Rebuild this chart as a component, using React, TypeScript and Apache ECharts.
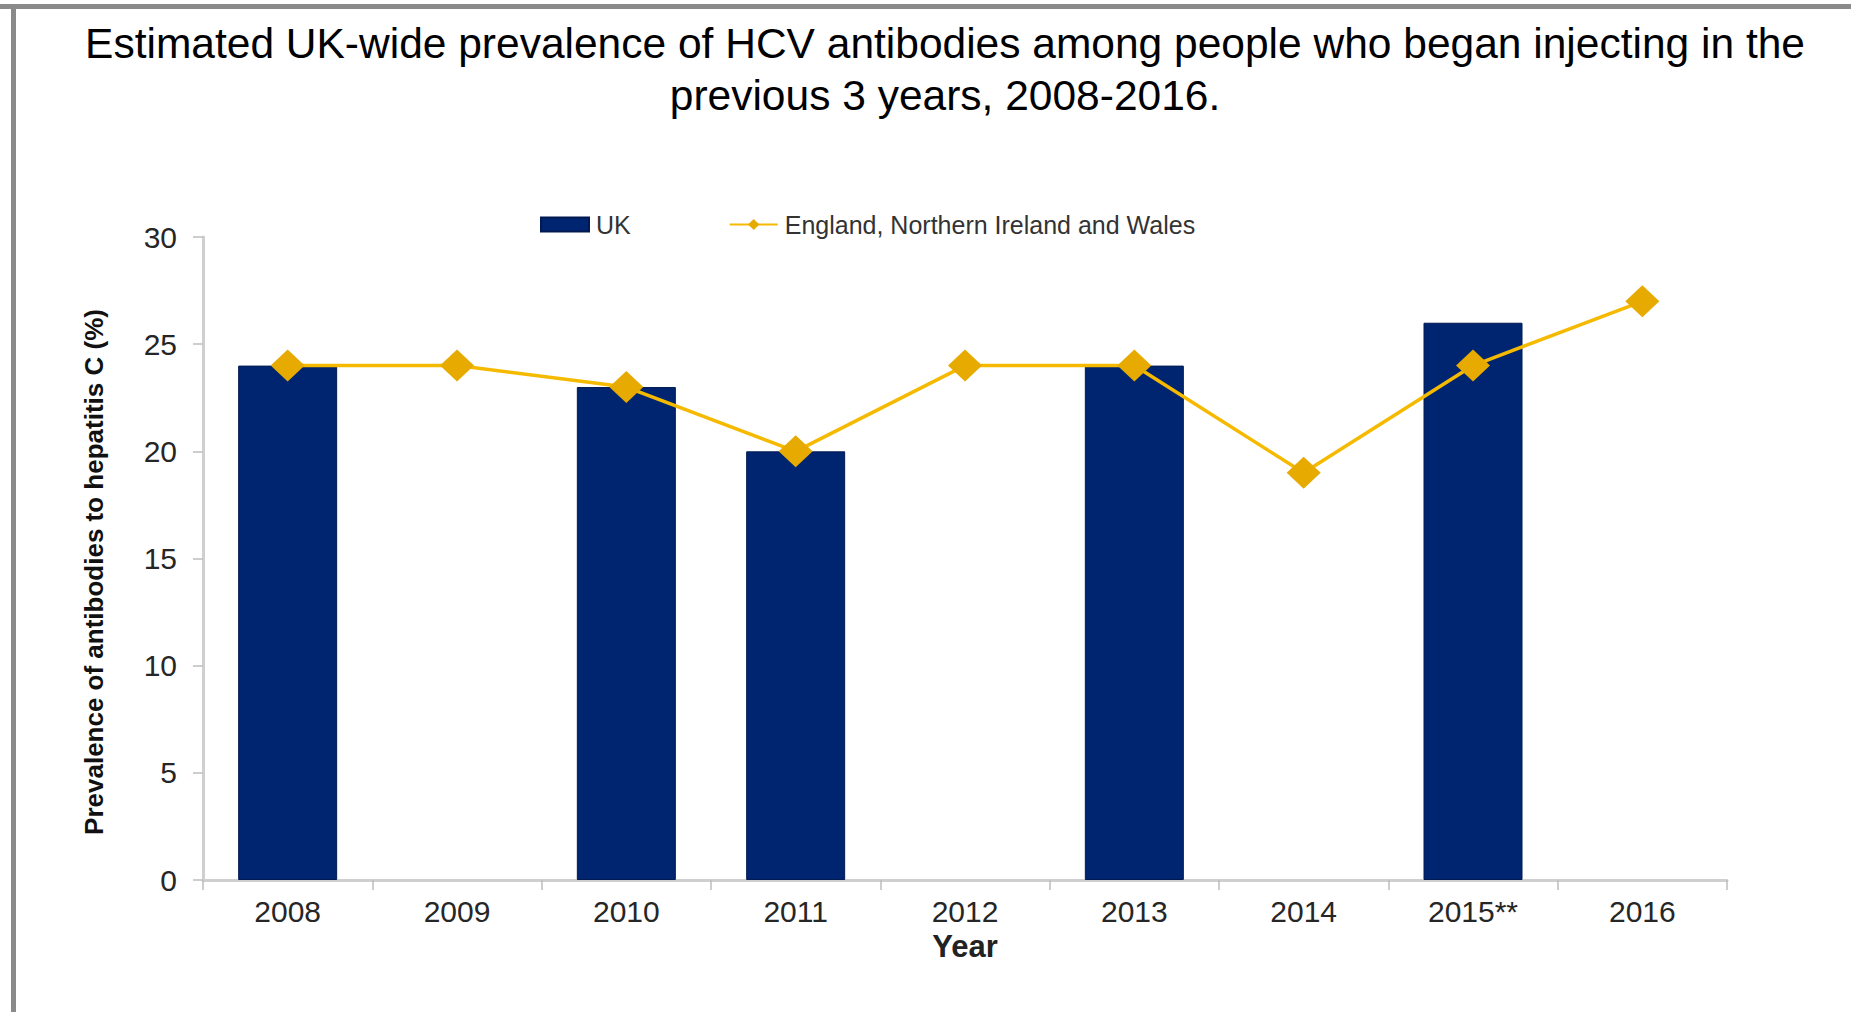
import React, { useEffect, useRef } from "react";
import * as echarts from "echarts";

const years = ["2008", "2009", "2010", "2011", "2012", "2013", "2014", "2015**", "2016"];
const ukValues: (number | null)[] = [24, null, 23, 20, null, 24, null, 26, null];
const eniwValues: number[] = [24, 24, 23, 20, 24, 24, 19, 24, 27];
const yTicks = { min: 0, max: 30, interval: 5 };

const titleLines = [
  "Estimated UK-wide prevalence of HCV antibodies among people who began injecting in the",
  "previous 3 years, 2008-2016.",
];
const yAxisTitle = "Prevalence of antibodies to hepatitis C (%)";
const xAxisTitle = "Year";

export default function App() {
  const ref = useRef<HTMLDivElement>(null);
  useEffect(() => {
    if (!ref.current) return;
    const chart = echarts.init(ref.current, null, { renderer: "svg" });
    const font = "'Liberation Sans', Arial, sans-serif";
    chart.setOption({
      animation: false,
      backgroundColor: "#ffffff",
      textStyle: { fontFamily: font },
      graphic: [
        {
          type: "rect",
          shape: { x: 0, y: 4, width: 1851, height: 5 },
          style: { fill: "#8a8a8a" },
        },
        {
          type: "rect",
          shape: { x: 11, y: 4, width: 5, height: 1008 },
          style: { fill: "#8a8a8a" },
        },
        {
          type: "text",
          x: 945,
          y: 43,
          style: {
            text: titleLines[0],
            font: `42.5px ${font}`,
            fill: "#000",
            textAlign: "center",
            textVerticalAlign: "middle",
          },
        },
        {
          type: "text",
          x: 945,
          y: 95,
          style: {
            text: titleLines[1],
            font: `42.5px ${font}`,
            fill: "#000",
            textAlign: "center",
            textVerticalAlign: "middle",
          },
        },
        {
          type: "text",
          x: 94,
          y: 572,
          rotation: Math.PI / 2,
          style: {
            text: yAxisTitle,
            font: `bold 26px ${font}`,
            fill: "#111",
            textAlign: "center",
            textVerticalAlign: "middle",
          },
        },
      ],
      legend: {
        left: 535,
        top: 207,
        itemGap: 98,
        itemWidth: 48,
        itemHeight: 14,
        textStyle: { fontSize: 25, color: "#333", fontFamily: font, padding: [0, 0, 0, 2] },
        data: [
          { name: "UK", icon: "rect" },
          { name: "England, Northern Ireland and Wales" },
        ],
      },
      grid: { left: 203, right: 124, top: 237, bottom: 132, containLabel: false },
      xAxis: {
        type: "category",
        data: years,
        boundaryGap: true,
        name: xAxisTitle,
        nameLocation: "middle",
        nameGap: 51,
        nameTextStyle: { fontSize: 31, fontWeight: "bold", color: "#222", fontFamily: font },
        axisLine: { show: true, lineStyle: { color: "#cfcfcf", width: 3 } },
        axisTick: { show: true, alignWithLabel: false, length: 10, lineStyle: { color: "#bdbdbd", width: 1.5 } },
        axisLabel: { fontSize: 30, color: "#262626", margin: 16, fontFamily: font },
        splitLine: { show: false },
      },
      yAxis: {
        type: "value",
        min: yTicks.min,
        max: yTicks.max,
        interval: yTicks.interval,
        axisLine: { show: true, lineStyle: { color: "#cfcfcf", width: 3 } },
        axisTick: { show: true, inside: false, length: 10, lineStyle: { color: "#bdbdbd", width: 1.5 } },
        axisLabel: { fontSize: 30, color: "#262626", margin: 26, fontFamily: font },
        splitLine: { show: false },
      },
      series: [
        {
          name: "UK",
          type: "bar",
          data: ukValues,
          barWidth: 99,
          itemStyle: { color: "#002570", borderColor: "#001a50", borderWidth: 1 },
          z: 1,
        },
        {
          name: "England, Northern Ireland and Wales",
          type: "line",
          data: eniwValues,
          symbol: "diamond",
          symbolSize: [34, 32],
          lineStyle: { color: "#F5BA00", width: 3.5 },
          itemStyle: { color: "#E6AA00" },
          z: 3,
        },
      ],
    });
    return () => chart.dispose();
  }, []);
  return (
    <div
      ref={ref}
      style={{ position: "fixed", left: 0, top: 0, width: 1851, height: 1012 }}
    />
  );
}
